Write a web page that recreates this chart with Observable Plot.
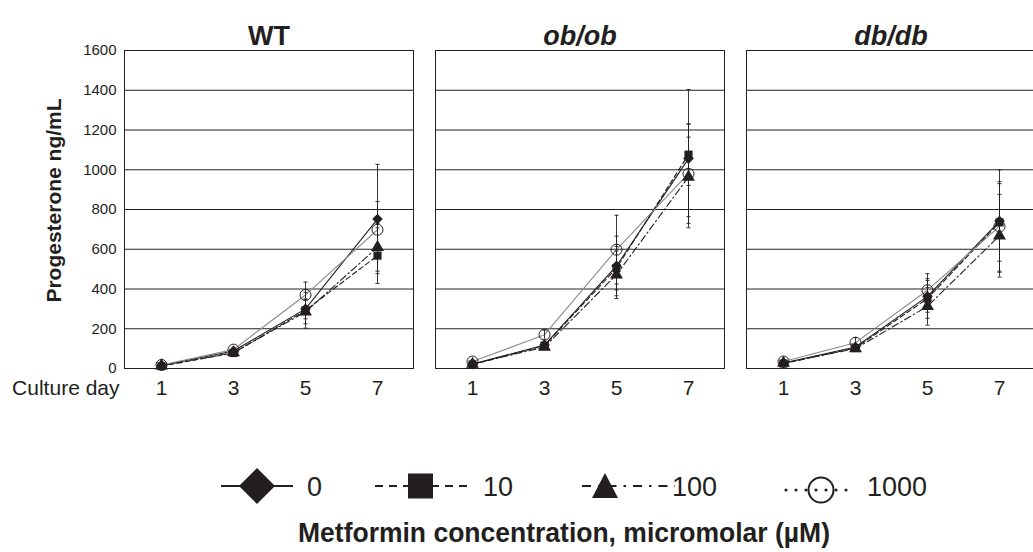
<!DOCTYPE html>
<html><head><meta charset="utf-8">
<script src="https://cdn.jsdelivr.net/npm/d3@7"></script>
<script src="https://cdn.jsdelivr.net/npm/@observablehq/plot@0.6"></script>
<style>
html,body{margin:0;padding:0;background:#fff;overflow:hidden;width:1033px;height:552px}
#chart svg{display:block;max-width:none!important}
#legend{display:block}
</style></head><body>
<div id="chart"></div>
<svg id="legend" width="1033" height="152"></svg>
<script>
// ---- data ----
const days = [1, 3, 5, 7];
const groups = ["WT", "ob/ob", "db/db"];
const concentrations = ["0", "10", "100", "1000"];
const yTicks = [0, 200, 400, 600, 800, 1000, 1200, 1400, 1600];

const wt0 = [15, 88, 300, 752],   wt0Err = [4, 10, 50, 275];
const wt10 = [12, 78, 293, 568],  wt10Err = [4, 10, 90, 140];
const wt100 = [14, 80, 285, 610], wt100Err = [4, 10, 60, 120];
const wt1000 = [18, 95, 370, 698], wt1000Err = [5, 12, 65, 142];

const ob0 = [22, 118, 516, 1056],  ob0Err = [5, 12, 150, 348];
const ob10 = [20, 115, 505, 1076], ob10Err = [4, 12, 110, 155];
const ob100 = [22, 108, 472, 964], ob100Err = [5, 12, 120, 200];
const ob1000 = [35, 170, 598, 980], ob1000Err = [6, 23, 173, 250];

const db0 = [28, 108, 363, 742],  db0Err = [5, 12, 80, 258];
const db10 = [25, 103, 352, 735], db10Err = [5, 12, 100, 195];
const db100 = [27, 100, 313, 668], db100Err = [5, 12, 95, 208];
const db1000 = [35, 130, 394, 715], db1000Err = [6, 25, 83, 225];

const legendTitle = "Metformin concentration, micromolar (µM)";

// ---- tidy table ----
const source = {
  "WT":    [[wt0, wt0Err], [wt10, wt10Err], [wt100, wt100Err], [wt1000, wt1000Err]],
  "ob/ob": [[ob0, ob0Err], [ob10, ob10Err], [ob100, ob100Err], [ob1000, ob1000Err]],
  "db/db": [[db0, db0Err], [db10, db10Err], [db100, db100Err], [db1000, db1000Err]]
};
const rows = [];
for (const g of groups) {
  source[g].forEach(([vals, errs], ci) => {
    days.forEach((d, di) => rows.push({group: g, conc: concentrations[ci], day: d, v: vals[di], e: errs[di]}));
  });
}
const bySeries = c => rows.filter(r => r.conc === c);

const font = "'Liberation Sans', Arial, Helvetica, sans-serif";
const ink = "#231f20";

const lineStyles = {
  "0":    {stroke: ink, strokeWidth: 1.1},
  "10":   {stroke: ink, strokeWidth: 1.1, strokeDasharray: "5,3"},
  "100":  {stroke: ink, strokeWidth: 1.1, strokeDasharray: "7,3,1.5,3"},
  "1000": {stroke: "#8a8a8a", strokeWidth: 1.1}
};

// small horizontal cap symbol for error bars
const capSymbol = {draw(ctx, size) { const r = Math.sqrt(size) / 2; ctx.moveTo(-r, 0); ctx.lineTo(r, 0); }};

const marks = [
  Plot.gridY(yTicks.slice(1, -1), {stroke: "#222", strokeOpacity: 1, strokeWidth: 1}),
  Plot.frame({stroke: ink, strokeWidth: 1}),
  Plot.axisY(yTicks, {tickSize: 0, tickPadding: 8, fontSize: 15, label: null, fill: ink, tickFormat: d => String(d)}),
  Plot.axisX({tickSize: 0, tickPadding: 12, fontSize: 21, label: null, fill: ink}),
  Plot.text(groups.filter(g => g === "WT"), {fx: d => d, text: d => d, frameAnchor: "top", dy: -25, fontSize: 27, fontWeight: "bold", fill: ink}),
  Plot.text(groups.filter(g => g !== "WT"), {fx: d => d, text: d => d, frameAnchor: "top", dy: -25, fontSize: 27, fontWeight: "bold", fontStyle: "italic", fill: ink}),
  Plot.text(["WT"], {fx: d => d, text: () => "Progesterone ng/mL", frameAnchor: "left", textAnchor: "middle", rotate: -90, dx: -70, dy: -9, fontSize: 21, fontWeight: "bold", fill: ink}),
  Plot.text(["WT"], {fx: d => d, text: () => "Culture day", frameAnchor: "bottom-left", textAnchor: "end", lineAnchor: "top", dx: -5, dy: 12, fontSize: 21, fill: ink})
];
for (const c of concentrations) {
  marks.push(Plot.line(bySeries(c), {fx: "group", x: "day", y: "v", ...lineStyles[c]}));
}
// error bars
marks.push(Plot.ruleX(rows, {fx: "group", x: "day", y1: d => d.v - d.e, y2: d => d.v + d.e, stroke: ink, strokeWidth: 0.9}));
marks.push(Plot.dot(rows, {fx: "group", x: "day", y: d => d.v + d.e, symbol: capSymbol, r: 2.3, stroke: ink, strokeWidth: 0.9, fill: "none"}));
marks.push(Plot.dot(rows, {fx: "group", x: "day", y: d => d.v - d.e, symbol: capSymbol, r: 2.3, stroke: ink, strokeWidth: 0.9, fill: "none"}));
// markers
marks.push(Plot.dot(bySeries("0"), {fx: "group", x: "day", y: "v", symbol: "diamond2", r: 4.8, fill: ink, stroke: "none"}));
marks.push(Plot.dot(bySeries("10"), {fx: "group", x: "day", y: "v", symbol: "square", r: 4.6, fill: ink, stroke: "none"}));
marks.push(Plot.dot(bySeries("100"), {fx: "group", x: "day", y: "v", symbol: "triangle", r: 4.8, fill: ink, stroke: "none"}));
marks.push(Plot.dot(bySeries("1000"), {fx: "group", x: "day", y: "v", symbol: "circle", r: 5.5, fill: "none", stroke: ink, strokeWidth: 1}));

const chart = Plot.plot({
  width: 1033,
  height: 400,
  marginLeft: 123,
  marginRight: -4,
  marginTop: 50,
  marginBottom: 32,
  style: {fontFamily: font, background: "#fff", color: ink},
  x: {type: "point", domain: days, padding: 0.5},
  y: {domain: [0, 1600]},
  fx: {domain: groups, paddingInner: 0.0705, paddingOuter: 0, axis: null},
  marks
});
document.getElementById("chart").appendChild(chart);

// ---- legend ----
const L = d3.select("#legend").style("font-family", font);
const cy = 86;
// 0 : solid + diamond
L.append("line").attr("x1", 221).attr("x2", 293).attr("y1", cy).attr("y2", cy).attr("stroke", ink).attr("stroke-width", 2);
L.append("path").attr("d", `M257,${cy-18}L275,${cy}L257,${cy+18}L239,${cy}Z`).attr("fill", ink);
// 10 : dashed + square
L.append("line").attr("x1", 375).attr("x2", 472).attr("y1", cy).attr("y2", cy).attr("stroke", ink).attr("stroke-width", 2).attr("stroke-dasharray", "8,6");
L.append("rect").attr("x", 408).attr("y", cy - 12.5).attr("width", 25).attr("height", 25).attr("fill", ink);
// 100 : dash-dot + triangle
L.append("line").attr("x1", 582).attr("x2", 675).attr("y1", cy).attr("y2", cy).attr("stroke", ink).attr("stroke-width", 2).attr("stroke-dasharray", "9,7,2.5,7");
L.append("path").attr("d", `M605,${cy-13}L618,${cy+12}L592,${cy+12}Z`).attr("fill", ink);
// 1000 : dotted + open circle
L.append("line").attr("x1", 786).attr("x2", 852).attr("y1", cy + 4).attr("y2", cy + 4).attr("stroke", ink).attr("stroke-width", 3.2).attr("stroke-linecap", "round").attr("stroke-dasharray", "0,10");
L.append("circle").attr("cx", 821).attr("cy", cy + 4).attr("r", 12.5).attr("fill", "none").attr("stroke", ink).attr("stroke-width", 2);
const labelX = [307, 483, 672, 867];
concentrations.forEach((c, i) => {
  L.append("text").attr("x", labelX[i]).attr("y", cy + 10).attr("font-size", 27).attr("fill", ink).text(c);
});
L.append("text").attr("x", 564).attr("y", 142).attr("text-anchor", "middle").attr("font-size", 27).attr("font-weight", "bold")
  .attr("fill", ink).attr("textLength", 532).attr("lengthAdjust", "spacingAndGlyphs").text(legendTitle);
</script>
</body></html>
